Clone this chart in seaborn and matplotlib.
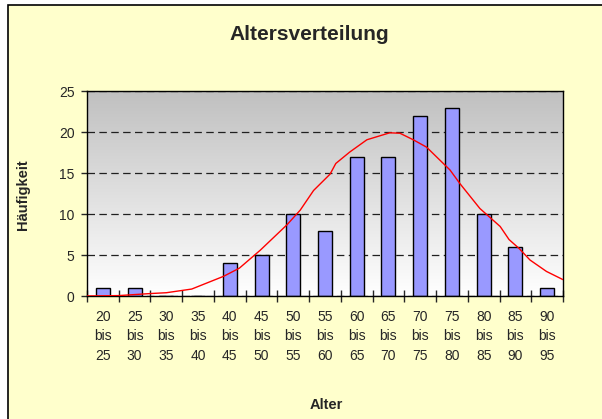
import seaborn as sns
import matplotlib.pyplot as plt
import numpy as np
import pandas as pd
from matplotlib.colors import LinearSegmentedColormap
from matplotlib.patches import Rectangle

# Daten
age_from = [20, 25, 30, 35, 40, 45, 50, 55, 60, 65, 70, 75, 80, 85, 90]
age_to = [25, 30, 35, 40, 45, 50, 55, 60, 65, 70, 75, 80, 85, 90, 95]
counts = [1, 1, 0, 0, 4, 5, 10, 8, 17, 17, 22, 23, 10, 6, 1]

curve_age = [20, 25, 30, 32.5, 36.5, 41.5, 44, 47.3, 51.5, 53.6, 55.7, 58.3, 59.2,
             61.4, 64.1, 67.7, 69.3, 71.4, 73.5, 77.2, 78.8, 81.9, 85.1, 86.5,
             88.1, 89.8, 92.4, 95]
curve_val = [0, 0.05, 0.3, 0.4, 0.85, 2.4, 3.4, 5.6, 8.7, 10.5, 12.9, 14.9, 16.2,
             17.6, 19.1, 19.95, 19.9, 19.1, 18.2, 15.4, 13.7, 10.7, 8.5, 6.9,
             5.8, 4.4, 3.0, 2.0]

title = "Altersverteilung"
xlabel = "Alter"
ylabel = "Häufigkeit"

sns.set_style("white")
plt.rcParams['font.family'] = ['Liberation Sans', 'DejaVu Sans']

df = pd.DataFrame({
    "mitte": [(a + b) / 2 for a, b in zip(age_from, age_to)],
    "anzahl": counts,
})
df_curve = pd.DataFrame({"alter": curve_age, "wert": curve_val})

fig = plt.figure(figsize=(6.02, 4.19), dpi=100)
fig.patch.set_facecolor("white")
# gelber Diagrammhintergrund mit Rahmen nur links/oben sichtbar
fig.patches.append(Rectangle((8 / 602, -0.2), 1.5, 1 - 5 / 419 + 0.2,
                             transform=fig.transFigure, facecolor="#FFFFCC",
                             edgecolor="black", linewidth=1.2, zorder=-10))

ax = fig.add_axes([87 / 602, 1 - 296 / 419, (563 - 87) / 602, (296 - 91.5) / 419])

# Farbverlauf im Zeichenbereich
cmap = LinearSegmentedColormap.from_list("grau", ["#C0C0C0", "#FFFFFF"])
ax.imshow(np.linspace(0, 1, 256).reshape(-1, 1), cmap=cmap, aspect="auto",
          extent=[20, 95, 0, 25], origin="upper", zorder=-1)

sns.barplot(data=df, x="mitte", y="anzahl", native_scale=True, width=0.44,
            color="#9999FF", edgecolor="black", linewidth=1, saturation=1,
            ax=ax, zorder=2)
sns.lineplot(data=df_curve, x="alter", y="wert", color="red", linewidth=1,
             ax=ax, zorder=3)

ax.set_xlim(20, 95)
ax.set_ylim(0, 25)
ax.set_yticks([0, 5, 10, 15, 20, 25])
ax.yaxis.grid(True, color="#202020", linestyle=(0, (6, 3.5)), linewidth=0.9)
ax.set_axisbelow(True)
ax.tick_params(axis="y", direction="out", length=4, width=1, labelsize=10, pad=5, left=True)

ax.set_xticks(age_from + [age_to[-1]])
ax.set_xticklabels([])
ax.tick_params(axis="x", which="major", direction="inout", length=8, width=1, bottom=True)
ax.set_xticks(df["mitte"], minor=True)
ax.set_xticklabels([f"{a}\nbis\n{b}" for a, b in zip(age_from, age_to)], minor=True,
                   linespacing=1.5)
ax.tick_params(axis="x", which="minor", length=0, labelsize=10, pad=10)

ax.set_xlabel("")
ax.set_ylabel("")
for s in ax.spines.values():
    s.set_color("black")
    s.set_linewidth(1)

fig.text(309 / 602, 1 - 35 / 419, title, ha="center", va="center",
         fontsize=15, fontweight="bold")
fig.text(326 / 602, 1 - 405 / 419, xlabel, ha="center", va="center",
         fontsize=10.5, fontweight="bold")
fig.text(23 / 602, 1 - 195 / 419, ylabel, ha="center", va="center",
         fontsize=10.5, fontweight="bold", rotation=90)

fig.savefig("out.png", dpi=100)
